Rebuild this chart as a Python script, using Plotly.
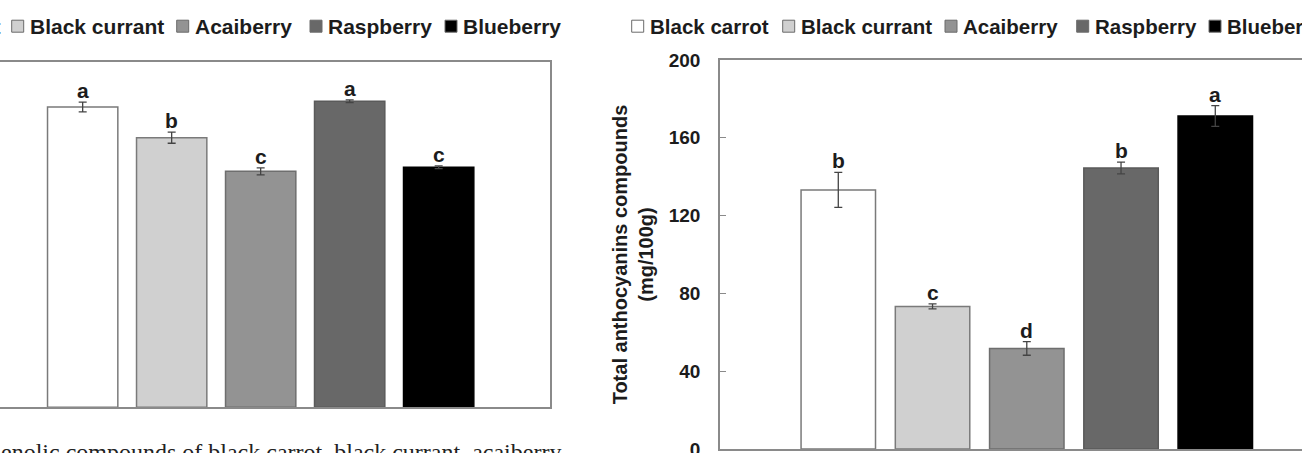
import plotly.graph_objects as go

# ---------------- data ----------------
fruits = ["Black carrot", "Black currant", "Acaiberry", "Raspberry", "Blueberry"]

# left panel: total phenolic compounds (its y axis is outside the crop; scale assumed 0-500)
phenolic = [434.5, 390.0, 341.4, 442.7, 347.2]
phenolic_err = [7, 8, 5, 2, 2]
phenolic_letters = ["a", "b", "c", "a", "c"]

# right panel: total anthocyanins compounds (mg/100g)
anthocyanins = [133.2, 73.3, 51.7, 144.5, 171.2]
anthocyanins_err = [9, 1.3, 3.5, 3, 5.3]
anthocyanins_letters = ["b", "c", "d", "b", "a"]

right_ticks = [0, 40, 80, 120, 160, 200]
right_title = "Total anthocyanins compounds<br>(mg/100g)"
caption = "phenolic compounds of black carrot, black currant, acaiberry,"

# ---------------- style / layout ----------------
W, H = 1302, 453
FILLS = ["#ffffff", "#d0d0d0", "#939393", "#686868", "#000000"]
OUTLINES = ["#7a7a7a", "#7a7a7a", "#6e6e6e", "#5a5a5a", "#000000"]
FRAME = "#8a8a8a"
TXT = "#1c1c1c"
SANS = "Liberation Sans, Arial, sans-serif"
SERIF = "Liberation Serif, Times New Roman, serif"

def px_x(p):
    return p / W

def px_y(p):
    return (H - p) / H

fig = go.Figure()

def add_bars(vals, errs, xa, ya):
    fig.add_trace(go.Bar(
        x=fruits, y=vals, width=0.79,
        marker=dict(color=FILLS, line=dict(color=OUTLINES, width=1.5)),
        error_y=dict(type="data", array=errs, color="#444444", thickness=1.3, width=4),
        xaxis=xa, yaxis=ya, showlegend=False,
    ))

add_bars(phenolic, phenolic_err, "x", "y")
add_bars(anthocyanins, anthocyanins_err, "x2", "y2")

annotations = []
shapes = []

def letters(vals, errs, labs, xr, yr):
    for f, v, e, l in zip(fruits, vals, errs, labs):
        annotations.append(dict(
            x=f, y=v + e, xref=xr, yref=yr, text=l, showarrow=False,
            yanchor="bottom", xanchor="center", yshift=-2,
            font=dict(family=SANS, size=21, color=TXT, weight="bold"),
        ))

letters(phenolic, phenolic_err, phenolic_letters, "x", "y")
letters(anthocyanins, anthocyanins_err, anthocyanins_letters, "x2", "y2")

# custom legends (the crop cuts them at the figure edges)
LEGEND_LEFT_X = [-139.5, 11.7, 176.7, 310, 445]
LEGEND_RIGHT_X = [631.7, 782.7, 945, 1076.7, 1209]
LEGEND_YC = 26.2

def legend(xs, size):
    for name, x0, fc in zip(fruits, xs, FILLS):
        shapes.append(dict(
            type="rect", xref="paper", yref="paper",
            x0=px_x(x0), x1=px_x(x0 + 12),
            y0=px_y(LEGEND_YC + 6), y1=px_y(LEGEND_YC - 6),
            fillcolor=fc, line=dict(color="#6a6a6a", width=1),
        ))
        annotations.append(dict(
            x=px_x(x0 + 16), y=px_y(LEGEND_YC), xref="paper", yref="paper",
            text=name, showarrow=False, xanchor="left", yanchor="middle",
            font=dict(family=SANS, size=size, color=TXT, weight="bold"),
        ))

legend(LEGEND_LEFT_X, 21)
legend(LEGEND_RIGHT_X, 20.5)

annotations.append(dict(
    x=px_x(-25), y=px_y(436.5), xref="paper", yref="paper",
    text=caption, showarrow=False, xanchor="left", yanchor="top",
    font=dict(family=SERIF, size=24, color="#222222"),
))

axis_common = dict(showgrid=False, zeroline=False, showline=True,
                   linecolor=FRAME, linewidth=1.5, automargin=False)

fig.update_layout(
    width=W, height=H, autosize=False,
    margin=dict(l=0, r=0, t=0, b=0, autoexpand=False),
    paper_bgcolor="white", plot_bgcolor="white",
    bargap=0.2,
    xaxis=dict(domain=[0, px_x(550)], range=[-0.929, 5.251], type="category",
               mirror=True, ticks="", showticklabels=False, anchor="y",
               **axis_common),
    yaxis=dict(domain=[px_y(407.3), px_y(61.7)], range=[0, 500], side="right",
               ticks="", showticklabels=False, anchor="x", **axis_common),
    xaxis2=dict(domain=[px_x(720), 1], range=[-1.255, 4.92], type="category",
                mirror=True, ticks="", showticklabels=False, anchor="y2",
                **axis_common),
    yaxis2=dict(domain=[px_y(449), px_y(60)], range=[0, 200], anchor="x2",
                tickvals=right_ticks, ticks="inside", ticklen=6, tickcolor=FRAME,
                tickwidth=1.3, ticklabeloverflow="allow",
                tickfont=dict(family=SANS, size=19, color=TXT, weight="bold"),
                ticklabelstandoff=14,
                title=dict(text=right_title, standoff=10,
                           font=dict(family=SANS, size=20, color=TXT, weight="bold")),
                **axis_common),
    annotations=annotations,
    shapes=shapes,
)

fig.write_html("out.html")
